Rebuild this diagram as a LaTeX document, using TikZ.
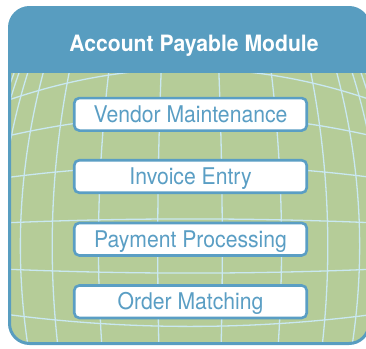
\documentclass[tikz,border=0pt]{standalone}
\usepackage{fontspec}
\newfontfamily\headfont[FakeStretch=0.94]{TeX Gyre Heros}
\newfontfamily\boxfont[FakeStretch=0.92]{TeX Gyre Heros}
\definecolor{headblue}{RGB}{88,157,192}
\definecolor{boxblue}{RGB}{90,158,196}
\definecolor{panelgreen}{RGB}{181,204,152}
\definecolor{meshline}{RGB}{201,232,241}
\tikzset{
  meshstroke/.style={meshline, line width=1.3pt},
  modbox/.style={draw=boxblue, line width=2.6pt, fill=white, rounded corners=5pt,
    minimum width=232.5pt, minimum height=32.5pt, inner sep=0pt,
    text height=16.5pt, text depth=0pt, text=boxblue,
    font=\boxfont\fontsize{23}{25}\selectfont},
  headtext/.style={text=white, inner sep=0pt, text height=16.2pt, text depth=0pt,
    font=\headfont\bfseries\fontsize{22.5}{24}\selectfont},
  frame/.style={rounded corners=20pt}
}
\begin{document}
\begin{tikzpicture}[x=1pt, y=-1pt,
  declare function={
    Xf(\a)=tanh(0.15*\a);
    Yn(\b)=(400/170)*tanh(0.068*\b);
    mx(\a,\b)=190+217*Xf(\a)*(1-0.1*Yn(\b)*Yn(\b));
    my(\a,\b)=246+170*Yn(\b)*(1-0.2*Xf(\a)*Xf(\a));
  }]
  \useasboundingbox (0,0) rectangle (366,348);

  % panel background
  \fill[panelgreen, frame] (9.5,7.5) rectangle (369,343.5);

  % curved mesh and header band, kept inside the panel
  \begin{scope}
    \clip[frame] (9.5,7.5) rectangle (369,343.5);
    \foreach \u in {-13,-11,...,13}
      \draw[meshstroke] plot[domain=-12:12, samples=60, variable=\v, smooth]
        ({mx(\u,\v)},{my(\u,\v)});
    \foreach \v in {-9,-7,...,9}
      \draw[meshstroke] plot[domain=-16:16, samples=60, variable=\u, smooth]
        ({mx(\u,\v)},{my(\u,\v)});
    \fill[headblue] (0,0) rectangle (370,73);
  \end{scope}

  % panel border
  \draw[headblue, line width=3pt, frame] (9.5,7.5) rectangle (369,343.5);

  % title
  \node[headtext] (title) at (194,43.7) {Account Payable Module};

  % module entries
  \node[modbox] (vendor)  at (190.5,114.3) {Vendor Maintenance};
  \node[modbox] (invoice) at (190.5,176.5) {Invoice Entry};
  \node[modbox] (payment) at (190.5,239.2) {Payment Processing};
  \node[modbox] (order)   at (190.5,301.7) {Order Matching};
\end{tikzpicture}
\end{document}
